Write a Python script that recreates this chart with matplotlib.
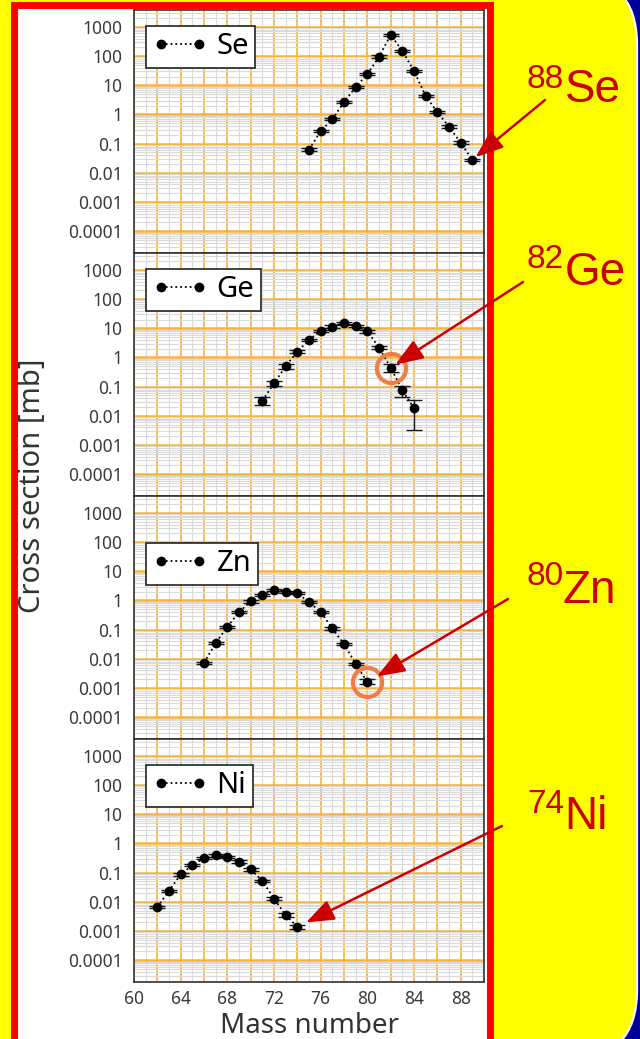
import numpy as np
import matplotlib.pyplot as plt
from matplotlib.patches import FancyBboxPatch, Rectangle
from matplotlib.ticker import LogLocator, MultipleLocator, NullFormatter

# ==========================================
# Data: fragmentation cross sections [mb]
# ==========================================
se_mass = [75, 76, 77, 78, 79, 80, 81, 82, 83, 84, 85, 86, 87, 88, 89]
se_val = [0.063, 0.27, 0.69, 2.65, 8.7, 24, 95, 530, 152, 31, 4.3, 1.2, 0.38, 0.108, 0.028]
se_lo = [0.057, 0.245, 0.63, 2.4, 7.9, 22, 86, 480, 138, 28, 3.9, 1.09, 0.345, 0.098, 0.025]
se_hi = [0.069, 0.30, 0.76, 2.9, 9.6, 26.5, 105, 585, 168, 34, 4.7, 1.32, 0.42, 0.119, 0.031]

ge_mass = [71, 72, 73, 74, 75, 76, 77, 78, 79, 80, 81, 82, 83, 84]
ge_val = [0.033, 0.13, 0.50, 1.6, 4.0, 8.1, 11.5, 15, 12, 7.8, 2.2, 0.45, 0.076, 0.018]
ge_lo = [0.023, 0.107, 0.40, 1.45, 3.6, 7.3, 10.4, 13.6, 10.8, 7.0, 1.95, 0.32, 0.043, 0.0033]
ge_hi = [0.045, 0.158, 0.62, 1.77, 4.4, 8.9, 12.7, 16.5, 13.2, 8.6, 2.45, 0.62, 0.107, 0.035]

zn_mass = [66, 67, 68, 69, 70, 71, 72, 73, 74, 75, 76, 77, 78, 79, 80]
zn_val = [0.0073, 0.035, 0.126, 0.40, 0.93, 1.56, 2.3, 2.0, 1.8, 0.88, 0.41, 0.11, 0.032, 0.0068, 0.0016]
zn_lo = [0.0066, 0.032, 0.114, 0.36, 0.84, 1.41, 2.08, 1.81, 1.63, 0.80, 0.37, 0.099, 0.029, 0.0061, 0.00135]
zn_hi = [0.0080, 0.038, 0.139, 0.44, 1.02, 1.72, 2.53, 2.2, 1.98, 0.97, 0.45, 0.121, 0.035, 0.0075, 0.0021]

ni_mass = [62, 63, 64, 65, 66, 67, 68, 69, 70, 71, 72, 73, 74]
ni_val = [0.0066, 0.024, 0.087, 0.18, 0.32, 0.39, 0.35, 0.24, 0.13, 0.053, 0.013, 0.0035, 0.0014]
ni_lo = [0.0060, 0.0218, 0.079, 0.163, 0.29, 0.355, 0.318, 0.218, 0.118, 0.048, 0.0117, 0.0031, 0.0012]
ni_hi = [0.0073, 0.0265, 0.096, 0.198, 0.352, 0.43, 0.385, 0.264, 0.143, 0.058, 0.0144, 0.0040, 0.0016]

elements = ['Se', 'Ge', 'Zn', 'Ni']
highlight = ['88', '82', '80', '74']          # labelled isotopes
highlight_mass = [89, 82, 80, 74]
circled = [False, True, True, False]

y_ticks = [1e-4, 1e-3, 1e-2, 1e-1, 1, 10, 100, 1000]
y_labels = ['0.0001', '0.001', '0.01', '0.1', '1', '10', '100', '1000']

W, H = 640, 1039
ORANGE = '#f9b13b'
RED = '#cc0000'

fig = plt.figure(figsize=(W / 100, H / 100), dpi=100)
fig.patch.set_facecolor('#000099')

# background slide: yellow rounded panel + red framed white box
bg = fig.add_axes([0, 0, 1, 1], zorder=-1)
bg.set_xlim(0, W)
bg.set_ylim(H, 0)
bg.axis('off')
bg.add_patch(FancyBboxPatch((-200, -25), 837, 1085,
                            boxstyle='round,pad=0,rounding_size=70',
                            facecolor='#ffff00', edgecolor='white', lw=1.6))
bg.add_patch(Rectangle((13.5, 5), 476, 1060, facecolor='white',
                       edgecolor='#ff0000', lw=5.0))

series = [
    (se_mass, se_val, se_lo, se_hi),
    (ge_mass, ge_val, ge_lo, ge_hi),
    (zn_mass, zn_val, zn_lo, zn_hi),
    (ni_mass, ni_val, ni_lo, ni_hi),
]
legend_top = [0.934, 0.934, 0.807, 0.893]
# label anchors in pixels from top: mass number x/baseline, symbol x/baseline, arrow start
label_pos = [
    (527, 88, 565, 102, 545, 100),
    (527, 268, 565, 285, 523, 282),
    (526, 585, 562, 603, 508, 599),
    (527, 813, 564, 829, 502, 826),
]
shrink = [3, 4, 8, 7]

left, right = 134, 484
top0, ph = 10, 243

for i, (mass, val, lo, hi) in enumerate(series):
    top = top0 + i * ph
    ax = fig.add_axes([left / W, 1 - (top + ph) / H, (right - left) / W, ph / H])
    ax.set_yscale('log')
    ax.set_xlim(60, 90)
    ax.set_ylim(1.8e-5, 3800)

    ax.set_yticks(y_ticks)
    ax.set_yticklabels(y_labels)
    ax.yaxis.set_minor_locator(LogLocator(base=10, subs=np.arange(2, 10), numticks=30))
    ax.yaxis.set_minor_formatter(NullFormatter())
    ax.xaxis.set_major_locator(MultipleLocator(2))
    ax.xaxis.set_minor_locator(MultipleLocator(1))
    if i == 3:
        ax.set_xticklabels([str(int(t)) if int(t) % 4 == 0 else ''
                            for t in ax.get_xticks()])
    else:
        ax.set_xticklabels([])

    ax.tick_params(which='both', length=0, labelsize=12.5, labelcolor='#3a3a3a')
    ax.tick_params(axis='y', pad=8)
    ax.tick_params(axis='x', pad=6)
    for lab in ax.get_xticklabels() + ax.get_yticklabels():
        lab.set_family('Noto Sans')

    ax.grid(which='minor', axis='both', color='#dadada', lw=0.8)
    ax.grid(which='major', axis='y', color=ORANGE, lw=1.8)
    ax.grid(which='major', axis='x', color=ORANGE, lw=1.2)
    ax.set_axisbelow(True)
    for sp in ax.spines.values():
        sp.set_color('#333333')
        sp.set_linewidth(1.2)

    v = np.array(val)
    yerr = [v - np.array(lo), np.array(hi) - v]
    ax.errorbar(mass, val, yerr=yerr, fmt='none', ecolor='#1a1a1a',
                elinewidth=1.0, capsize=6, capthick=1.0, zorder=3)
    ax.plot(mass, val, 'o:', color='black', ms=6, lw=1.3,
            label=elements[i], zorder=4)

    leg = ax.legend(loc='upper left', bbox_to_anchor=(0.034, legend_top[i]),
                    borderaxespad=0, fancybox=False, framealpha=1,
                    edgecolor='#222222', numpoints=2, handlelength=1.9,
                    handletextpad=0.3, borderpad=0.22,
                    prop={'family': 'Noto Sans', 'size': 21})
    leg.get_frame().set_linewidth(1.2)

    # highlighted isotope
    k = mass.index(highlight_mass[i])
    if circled[i]:
        ax.plot(mass[k], val[k], 'o', ms=21, mfc='none', mec='#f27c45',
                mew=3.0, zorder=5)
    xm, ym, xs, ys, xa, ya = label_pos[i]
    ax.annotate('', xy=(mass[k], val[k]), xycoords='data',
                xytext=(xa, H - ya), textcoords='figure pixels',
                annotation_clip=False,
                arrowprops=dict(arrowstyle='-|>,head_length=0.85,head_width=0.32',
                                mutation_scale=20, color=RED, lw=1.8,
                                shrinkA=0, shrinkB=shrink[i]), zorder=6)
    fig.text(xm / W, 1 - ym / H, highlight[i], color=RED, fontsize=24,
             family='Liberation Sans', ha='left', va='baseline')
    fig.text(xs / W, 1 - ys / H, elements[i], color=RED, fontsize=33,
             family='Liberation Sans', ha='left', va='baseline')

fig.text(33 / W, 1 - 486 / H, 'Cross section [mb]', rotation=90, ha='center',
         va='center', fontsize=21, color='#333333', family='Noto Sans')
fig.text(309 / W, 1 - 1026 / H, 'Mass number', ha='center', va='center',
         fontsize=20, color='#333333', family='Noto Sans')

fig.savefig('out.png', dpi=100, facecolor=fig.get_facecolor())
